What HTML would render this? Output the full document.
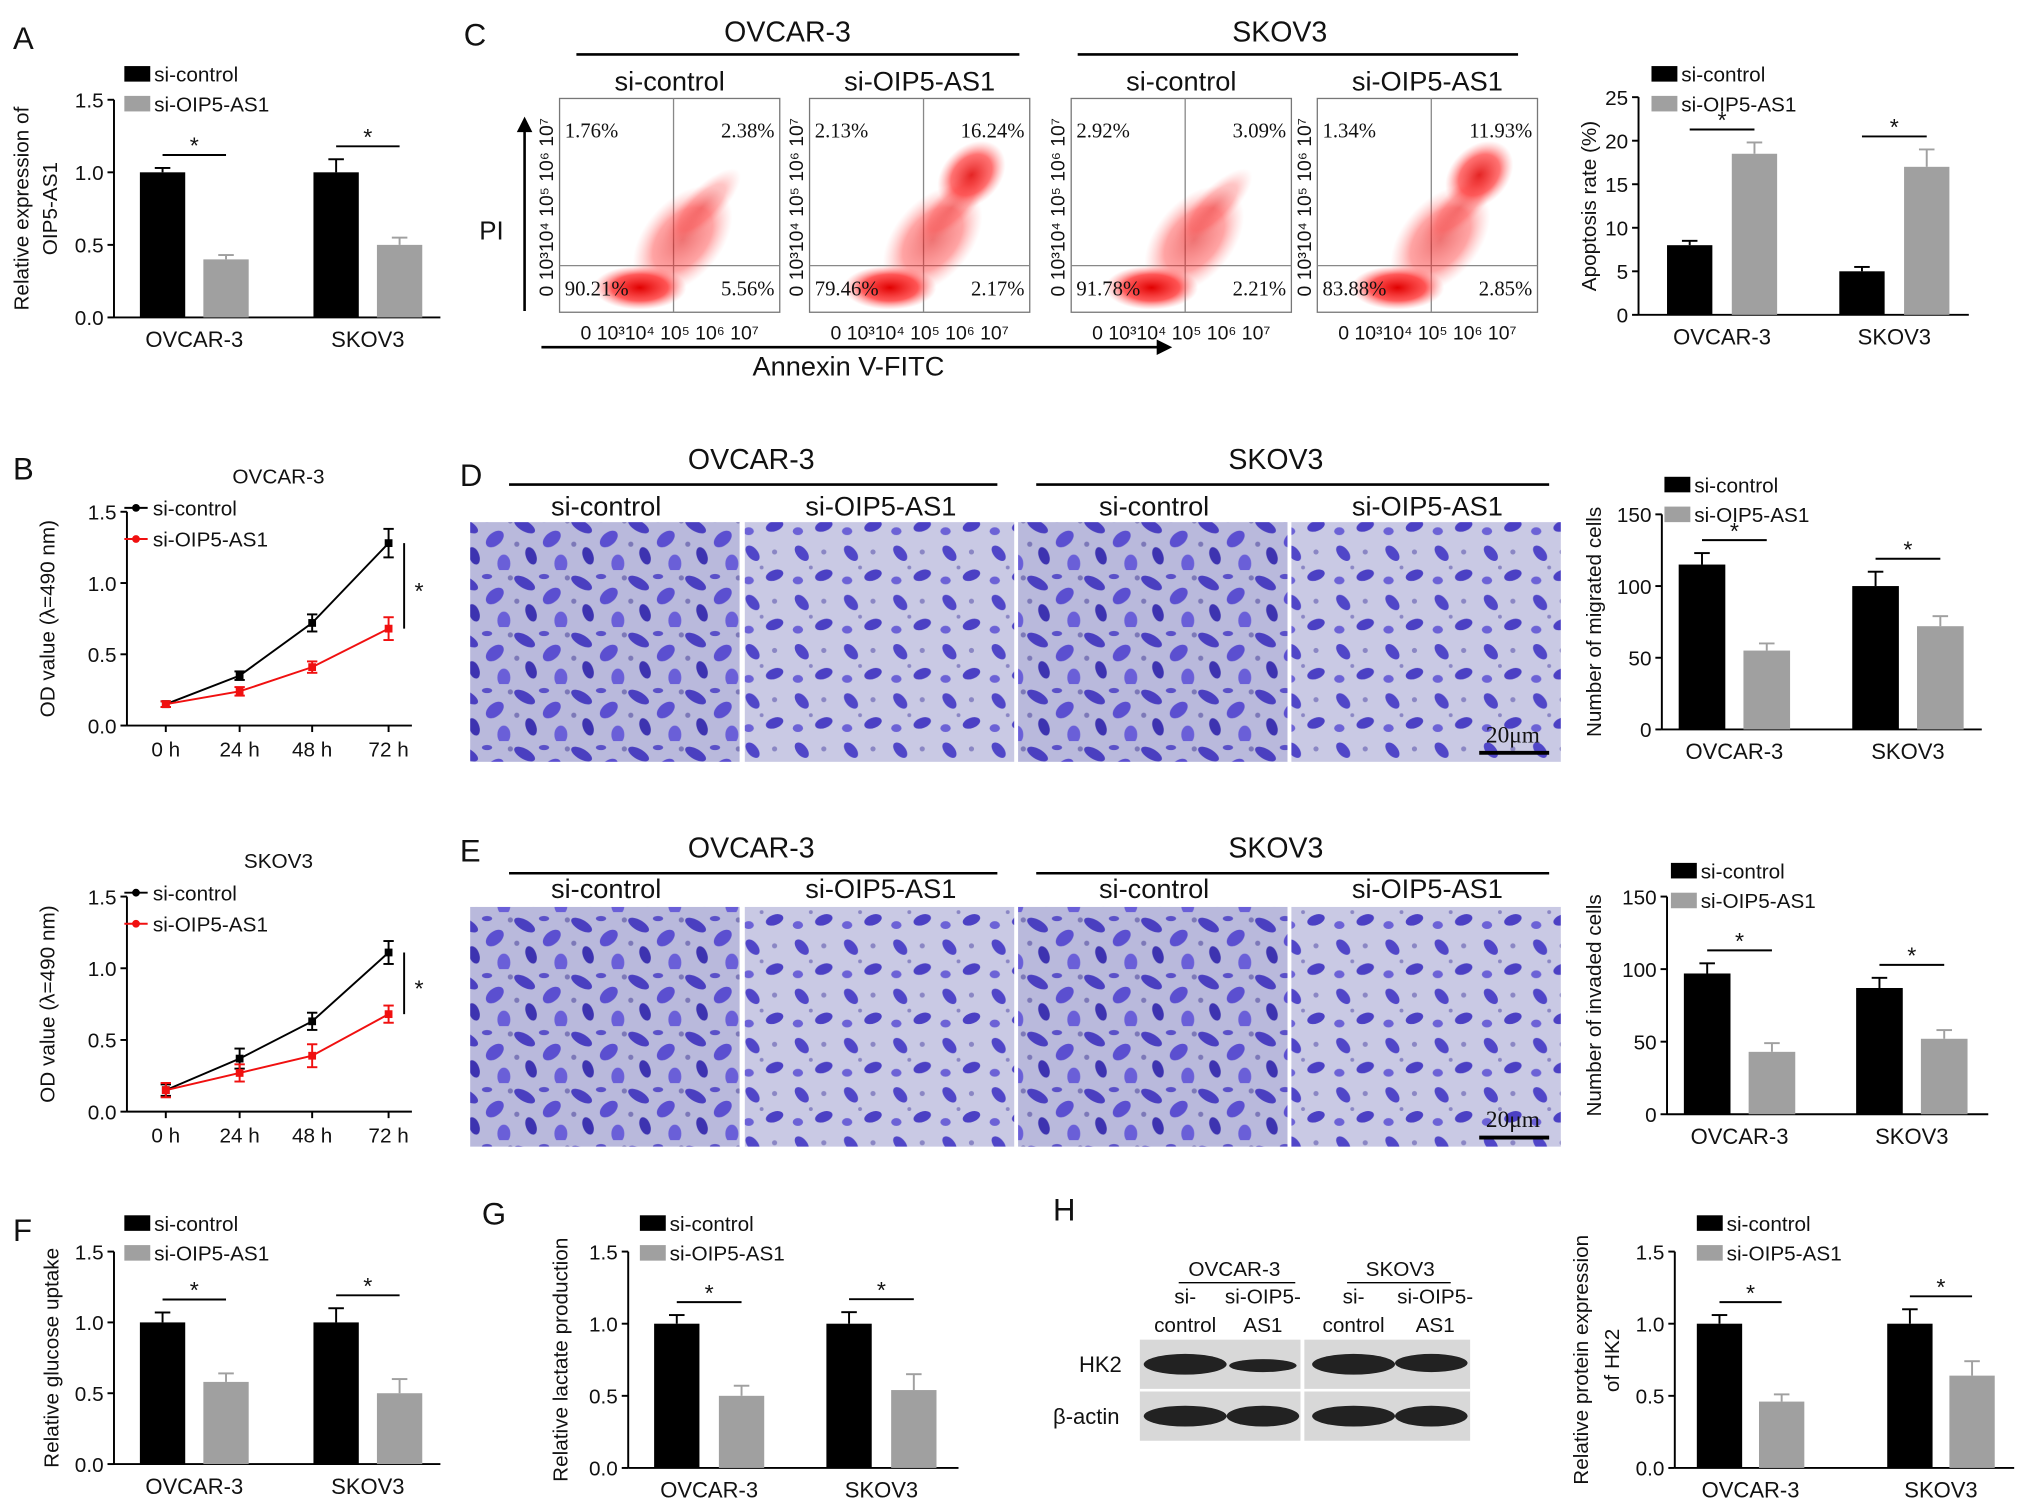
<!DOCTYPE html>
<html><head><meta charset="utf-8"><style>
html,body{margin:0;padding:0;background:#fff}
svg{display:block;font-family:"Liberation Sans",Arial,sans-serif}
</style></head><body>
<svg id="fig" width="2031" height="1512" viewBox="0 0 1568 1167" preserveAspectRatio="none" xmlns="http://www.w3.org/2000/svg">
<defs>
<pattern id="cellsA" width="44" height="44" patternUnits="userSpaceOnUse">
<rect width="44" height="44" fill="#b9b9dc"/>
<ellipse cx="9" cy="10" rx="9" ry="4" fill="#4a3fc0" transform="rotate(30 9 10)"/>
<ellipse cx="30" cy="20" rx="8" ry="5" fill="#5b4fd0" transform="rotate(-40 30 20)"/>
<ellipse cx="14" cy="33" rx="7" ry="4" fill="#3d33b0" transform="rotate(70 14 33)"/>
<ellipse cx="37" cy="39" rx="5" ry="7" fill="#6a5fd8"/>
<ellipse cx="24" cy="5" rx="4" ry="2" fill="#5a50c8"/>
<circle cx="3" cy="24" r="2" fill="#7c78b8"/><circle cx="42" cy="6" r="2" fill="#7c78b8"/>
</pattern>
<pattern id="cellsB" width="38" height="38" patternUnits="userSpaceOnUse">
<rect width="38" height="38" fill="#c9c9e4"/>
<ellipse cx="11" cy="9" rx="7" ry="4" fill="#5046c8" transform="rotate(50 11 9)"/>
<ellipse cx="28" cy="26" rx="7" ry="4" fill="#4b40c4" transform="rotate(-20 28 26)"/>
<ellipse cx="8" cy="30" rx="4" ry="3" fill="#6c62d6"/>
<circle cx="28" cy="8" r="2" fill="#8a86c4"/><circle cx="18" cy="20" r="1.5" fill="#8a86c4"/>
</pattern>
<radialGradient id="dots"><stop offset="0" stop-color="#e00000"/><stop offset="0.6" stop-color="#ff3030" stop-opacity="0.8"/><stop offset="1" stop-color="#ff8080" stop-opacity="0"/></radialGradient>
</defs>
<g id="root"></g>
</svg>
<script>
// ---------- data ----------
var groups = ["OVCAR-3","SKOV3"];
var seriesNames = ["si-control","si-OIP5-AS1"];
var aCtrl = [1.0,1.0], aSi = [0.4,0.5], aErrC=[0.03,0.09], aErrS=[0.03,0.05];
var cCtrl = [8,5], cSi = [18.5,17], cErrC=[0.5,0.5], cErrS=[1.3,2];
var dCtrl = [115,100], dSi = [55,72], dErrC=[8,10], dErrS=[5,7];
var eCtrl = [97,87], eSi = [43,52], eErrC=[7,7], eErrS=[6,6];
var fCtrl = [1.0,1.0], fSi = [0.58,0.5], fErrC=[0.07,0.1], fErrS=[0.06,0.1];
var gCtrl = [1.0,1.0], gSi = [0.5,0.54], gErrC=[0.06,0.08], gErrS=[0.07,0.11];
var hCtrl = [1.0,1.0], hSi = [0.46,0.64], hErrC=[0.06,0.1], hErrS=[0.05,0.1];
var times = ["0 h","24 h","48 h","72 h"];
var bTopCtrl = [0.15,0.35,0.72,1.28], bTopSi = [0.15,0.24,0.41,0.68];
var bTopCtrlErr=[0.02,0.03,0.06,0.1], bTopSiErr=[0.02,0.03,0.04,0.08];
var bBotCtrl = [0.15,0.37,0.63,1.11], bBotSi = [0.15,0.27,0.39,0.68];
var bBotCtrlErr=[0.04,0.07,0.06,0.08], bBotSiErr=[0.05,0.06,0.08,0.06];
var ticks15 = ["0.0","0.5","1.0","1.5"], ticks25=["0","5","10","15","20","25"], ticks150=["0","50","100","150"];
var flowPct = [["1.76%","2.38%","90.21%","5.56%"],["2.13%","16.24%","79.46%","2.17%"],["2.92%","3.09%","91.78%","2.21%"],["1.34%","11.93%","83.88%","2.85%"]];

var NS="http://www.w3.org/2000/svg", root=document.getElementById('root');
function el(t,a,p){var e=document.createElementNS(NS,t);for(var k in a)e.setAttribute(k,a[k]);(p||root).appendChild(e);return e;}
function txt(s,x,y,sz,a,p,anchor){var e=el('text',Object.assign({x:x,y:y,'font-size':sz,fill:'#111','text-anchor':anchor||'start'},a||{}),p);e.textContent=s;return e;}

function barChart(name,o){
  var g=el('g',{});
  
  
  var sy=function(v){return o.y0-(v/o.max)*(o.y0-o.y1);};
  el('line',{x1:o.ax,y1:o.y1,x2:o.ax,y2:o.y0,stroke:'#000','stroke-width':1.5},g);
  el('line',{x1:o.ax,y1:o.y0,x2:o.xEnd,y2:o.y0,stroke:'#000','stroke-width':1.5},g);
  o.ticks.forEach(function(t){var y=sy(parseFloat(t));el('line',{x1:o.ax-5,y1:y,x2:o.ax,y2:y,stroke:'#000','stroke-width':1.5},g);txt(t,o.ax-8,y+6,16,{},g,'end');});
  var cols=['#000','#a0a0a0'], sers=[o.c,o.s], errs=[o.ec,o.es];
  groups.forEach(function(gr,i){
    var gx=o.gx[i];
    for(var s=0;s<2;s++){
      var x=gx+s*o.step, v=sers[s][i], y=sy(v), e=sy(v+errs[s][i]);
      var b=el('rect',{x:x,y:y,width:o.bw,height:o.y0-y,fill:cols[s]},g);
      
      
      el('line',{x1:x+o.bw/2,y1:y,x2:x+o.bw/2,y2:e,stroke:cols[s],'stroke-width':1.5},g);
      el('line',{x1:x+o.bw/2-6,y1:e,x2:x+o.bw/2+6,y2:e,stroke:cols[s],'stroke-width':1.5},g);
    }
    var top=Math.min(sy(o.c[i]+o.ec[i]),sy(o.s[i]+o.es[i]))-10;
    el('line',{x1:gx+o.bw/2,y1:top,x2:gx+o.step+o.bw/2,y2:top,stroke:'#000','stroke-width':1.5},g);
    txt('*',gx+(o.step+o.bw)/2,top-1,18,{},g,'middle');
    txt(gr,gx+(o.step+o.bw)/2,o.y0+23,17,{},g,'middle');
  });
  var ly=o.legY;
  [0,1].forEach(function(s){
    el('rect',{x:o.legX,y:ly+s*23-7,width:20,height:12,fill:cols[s]},g);
    var t=txt(seriesNames[s],o.legX+23,ly+s*23+5,16,{},g);
    
    
  });
  var yt=txt(o.ylab,0,0,16,{transform:'translate('+o.ylx+','+(o.y0+o.y1)/2+') rotate(-90)'},g,'middle');
  
  
}

function lineChart(name,o){
  var g=el('g',{});
  
  
  var sy=function(v){return o.y0-(v/1.5)*(o.y0-o.y1);};
  var xs=[128,185,241,300];
  el('line',{x1:98,y1:o.y1,x2:98,y2:o.y0,stroke:'#000','stroke-width':1.5},g);
  el('line',{x1:98,y1:o.y0,x2:318,y2:o.y0,stroke:'#000','stroke-width':1.5},g);
  ticks15.forEach(function(t){var y=sy(parseFloat(t));el('line',{x1:93,y1:y,x2:98,y2:y,stroke:'#000','stroke-width':1.5},g);txt(t,90,y+6,16,{},g,'end');});
  times.forEach(function(t,i){el('line',{x1:xs[i],y1:o.y0,x2:xs[i],y2:o.y0+5,stroke:'#000','stroke-width':1.5},g);txt(t,xs[i],o.y0+24,16,{},g,'middle');});
  [[o.c,o.ce,'#000'],[o.s,o.se,'#f01010']].forEach(function(sr,k){
    var pts=sr[0].map(function(v,i){return xs[i]+','+sy(v);}).join(' ');
    var pl=el('polyline',{points:pts,fill:'none',stroke:sr[2],'stroke-width':1.5},g);
    
    
    sr[0].forEach(function(v,i){
      var y=sy(v),e1=sy(v+sr[1][i]),e2=sy(v-sr[1][i]);
      el('line',{x1:xs[i],y1:e1,x2:xs[i],y2:e2,stroke:sr[2],'stroke-width':1.5},g);
      el('line',{x1:xs[i]-4,y1:e1,x2:xs[i]+4,y2:e1,stroke:sr[2],'stroke-width':1.5},g);
      el('line',{x1:xs[i]-4,y1:e2,x2:xs[i]+4,y2:e2,stroke:sr[2],'stroke-width':1.5},g);
      el('rect',{x:xs[i]-3,y:y-3,width:6,height:6,fill:sr[2]},g);
    });
  });
  var a=sy(o.c[3]),b=sy(o.s[3]);
  el('line',{x1:312,y1:a,x2:312,y2:b,stroke:'#000','stroke-width':1.5},g);
  txt('*',320,(a+b)/2+10,18,{},g);
  txt(o.title,215,o.y1-22,16,{},g,'middle');
  [0,1].forEach(function(s){var c=s?'#f01010':'#000';var ly=o.y1-3+s*24;
    el('line',{x1:96,y1:ly,x2:114,y2:ly,stroke:c,'stroke-width':1.5},g);el('circle',{cx:105,cy:ly,r:3,fill:c},g);
    txt(seriesNames[s],118,ly+6,16,{},g);});
  txt('OD value (\u03bb=490 nm)',0,0,16,{transform:'translate(42,'+(o.y0+o.y1)/2+') rotate(-90)'},g,'middle');
}

[['A',10,38],['B',10,370],['C',358,35],['D',355,375],['E',355,665],['F',10,958],['G',372,945],['H',813,942]].forEach(function(l){
  var t=txt(l[0],l[1],l[2],24,{});
  
  
});

barChart('chart-a',{ax:88,y0:245,y1:77,max:1.5,xEnd:340,ticks:ticks15,c:aCtrl,s:aSi,ec:aErrC,es:aErrS,gx:[108,242],step:49,bw:35,legX:96,legY:58,ylab:'Relative expression of OIP5-AS1',ylx:22});
root.lastChild.querySelector('text[transform]').textContent='Relative expression of';
txt('OIP5-AS1',0,0,16,{transform:'translate(44,161) rotate(-90)'},null,'middle');

barChart('chart-c-apoptosis',{ax:1265,y0:243,y1:75,max:25,xEnd:1520,ticks:ticks25,c:cCtrl,s:cSi,ec:cErrC,es:cErrS,gx:[1287,1420],step:50,bw:35,legX:1275,legY:58,ylab:'Apoptosis rate (%)',ylx:1232});
barChart('chart-d-migration',{ax:1283,y0:563,y1:397,max:150,xEnd:1530,ticks:ticks150,c:dCtrl,s:dSi,ec:dErrC,es:dErrS,gx:[1296,1430],step:50,bw:36,legX:1285,legY:375,ylab:'Number of migrated cells',ylx:1236});
barChart('chart-e-invasion',{ax:1287,y0:860,y1:692,max:150,xEnd:1535,ticks:ticks150,c:eCtrl,s:eSi,ec:eErrC,es:eErrS,gx:[1300,1433],step:50,bw:36,legX:1290,legY:673,ylab:'Number of invaded cells',ylx:1236});
barChart('chart-f-glucose',{ax:88,y0:1130,y1:966,max:1.5,xEnd:340,ticks:ticks15,c:fCtrl,s:fSi,ec:fErrC,es:fErrS,gx:[108,242],step:49,bw:35,legX:96,legY:945,ylab:'Relative glucose uptake',ylx:45});
barChart('chart-g-lactate',{ax:485,y0:1133,y1:966,max:1.5,xEnd:740,ticks:ticks15,c:gCtrl,s:gSi,ec:gErrC,es:gErrS,gx:[505,638],step:50,bw:35,legX:494,legY:945,ylab:'Relative lactate production',ylx:438});
barChart('chart-h-hk2',{ax:1293,y0:1133,y1:966,max:1.5,xEnd:1555,ticks:ticks15,c:hCtrl,s:hSi,ec:hErrC,es:hErrS,gx:[1310,1457],step:48,bw:35,legX:1310,legY:945,ylab:'Relative protein expression',ylx:1226});
txt('of HK2',0,0,16,{transform:'translate(1250,1050) rotate(-90)'},null,'middle');

lineChart('chart-b-ovcar3',{y0:560,y1:395,c:bTopCtrl,s:bTopSi,ce:bTopCtrlErr,se:bTopSiErr,title:'OVCAR-3'});
lineChart('chart-b-skov3',{y0:858,y1:692,c:bBotCtrl,s:bBotSi,ce:bBotCtrlErr,se:bBotSiErr,title:'SKOV3'});

var fg=el('g',{});
txt('OVCAR-3',608,32,22,{},fg,'middle');el('line',{x1:445,y1:42,x2:787,y2:42,stroke:'#000','stroke-width':2},fg);
txt('SKOV3',988,32,22,{},fg,'middle');el('line',{x1:832,y1:42,x2:1172,y2:42,stroke:'#000','stroke-width':2},fg);
var fx=[432,625,827,1017], subs=['si-control','si-OIP5-AS1','si-control','si-OIP5-AS1'];
fx.forEach(function(x,i){
  txt(subs[i],x+85,70,21,{},fg,'middle');
  el('rect',{x:x,y:76,width:170,height:165,fill:'#fff',stroke:'#777','stroke-width':1},fg);
  var qx=x+88,qy=205;
  el('line',{x1:qx,y1:76,x2:qx,y2:241,stroke:'#888'},fg);el('line',{x1:x,y1:qy,x2:x+170,y2:qy,stroke:'#888'},fg);
  el('ellipse',{cx:x+95,cy:185,rx:30,ry:48,fill:'url(#dots)',opacity:0.55,transform:'rotate(40 '+(x+95)+' 185)'},fg);
  el('ellipse',{cx:x+62,cy:222,rx:36,ry:17,fill:'url(#dots)'},fg);
  el('ellipse',{cx:x+110,cy:160,rx:14,ry:40,fill:'url(#dots)',opacity:0.35,transform:'rotate(45 '+(x+110)+' 160)'},fg);
  if(i==1||i==3) el('ellipse',{cx:x+125,cy:135,rx:22,ry:30,fill:'url(#dots)',opacity:0.85,transform:'rotate(45 '+(x+125)+' 135)'},fg);
  var p=flowPct[i];
  txt(p[0],x+4,106,16,{'font-family':'Liberation Serif'},fg);
  txt(p[1],x+166,106,16,{'font-family':'Liberation Serif'},fg,'end');
  txt(p[2],x+4,228,16,{'font-family':'Liberation Serif'},fg);
  txt(p[3],x+166,228,16,{'font-family':'Liberation Serif'},fg,'end');
  txt('0 10\u00b310\u2074 10\u2075 10\u2076 10\u2077',x+85,262,15,{},fg,'middle');
  txt('0 10\u00b310\u2074 10\u2075 10\u2076 10\u2077',0,0,15,{transform:'translate('+(x-5)+',160) rotate(-90)'},fg,'middle');
});
el('line',{x1:405,y1:240,x2:405,y2:100,stroke:'#000','stroke-width':2},fg);el('polygon',{points:'399,102 405,90 411,102',fill:'#000'},fg);
txt('PI',370,185,20,{},fg);
el('line',{x1:418,y1:268,x2:895,y2:268,stroke:'#000','stroke-width':2},fg);el('polygon',{points:'893,262 905,268 893,274',fill:'#000'},fg);
txt('Annexin V-FITC',655,290,21,{},fg,'middle');

function imgs(name,y,titleY,hdrY){
  var g=el('g',{});
  txt('OVCAR-3',580,titleY,22,{},g,'middle');el('line',{x1:393,y1:titleY+12,x2:770,y2:titleY+12,stroke:'#000','stroke-width':2},g);
  txt('SKOV3',985,titleY,22,{},g,'middle');el('line',{x1:800,y1:titleY+12,x2:1196,y2:titleY+12,stroke:'#000','stroke-width':2},g);
  var xs=[363,575,786,997];
  xs.forEach(function(x,i){txt(subs[i],x+105,hdrY,21,{},g,'middle');el('rect',{x:x,y:y,width:208,height:185,fill:'url(#'+(i%2?'cellsB':'cellsA')+')'},g);});
  txt('20\u03bcm',1168,y+170,18,{'font-family':'Liberation Serif'},g,'middle');
  el('line',{x1:1142,y1:y+178,x2:1196,y2:y+178,stroke:'#000','stroke-width':3},g);
}
imgs('migration-images',403,362,398);
imgs('invasion-images',700,662,693);

var hg=el('g',{});
txt('OVCAR-3',953,985,16,{},hg,'middle');el('line',{x1:910,y1:990,x2:1000,y2:990,stroke:'#000'},hg);
txt('SKOV3',1081,985,16,{},hg,'middle');el('line',{x1:1040,y1:990,x2:1120,y2:990,stroke:'#000'},hg);
[['si-','control',915],['si-OIP5-','AS1',975],['si-','control',1045],['si-OIP5-','AS1',1108]].forEach(function(l){txt(l[0],l[2],1006,16,{},hg,'middle');txt(l[1],l[2],1028,16,{},hg,'middle');});
el('rect',{x:880,y:1034,width:124,height:78,fill:'#d8d8d8'},hg);el('rect',{x:1007,y:1034,width:128,height:78,fill:'#d8d8d8'},hg);
el('line',{x1:880,y1:1073,x2:1135,y2:1073,stroke:'#fff','stroke-width':2},hg);
[[915,1053,32,8],[975,1054,26,5],[1045,1053,32,8],[1105,1052,28,7],[915,1093,32,8],[975,1093,28,8],[1045,1093,32,8],[1105,1093,28,8]].forEach(function(b){el('ellipse',{cx:b[0],cy:b[1],rx:b[2],ry:b[3],fill:'#222'},hg);});
txt('HK2',833,1059,17,{},hg);txt('\u03b2-actin',813,1099,17,{},hg);
</script>
</body></html>
